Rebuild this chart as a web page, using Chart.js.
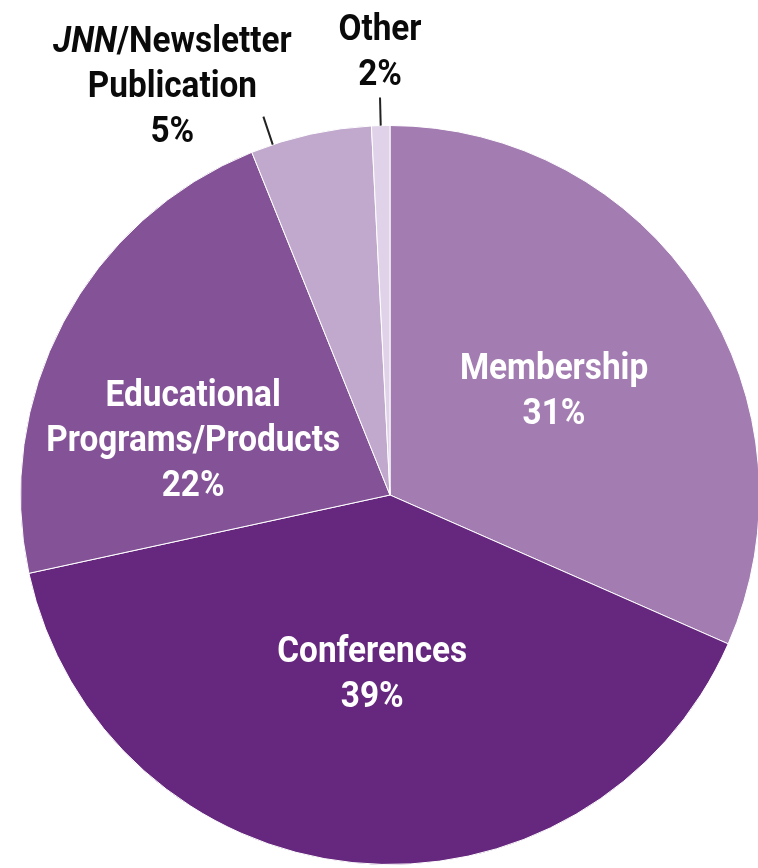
<!DOCTYPE html>
<html>
<head>
<meta charset="utf-8">
<script src="https://cdn.jsdelivr.net/npm/chart.js@4.4.1/dist/chart.umd.min.js"></script>
<style>
  html, body { margin: 0; padding: 0; background: #fff; overflow: hidden; }
  #wrap { width: 760px; height: 868px; }
</style>
</head>
<body>
<div id="wrap"><canvas id="pie" width="760" height="868"></canvas></div>
<script>
// Revenue sources, clockwise from 12 o'clock
const categories = ['Membership', 'Conferences', 'Educational Programs/Products', 'JNN/Newsletter Publication', 'Other'];
// slice sizes as drawn (percent of circle)
const shares = [31.6, 40.0, 22.3, 5.3, 0.8];
// percentages as printed on the chart
const pctText = ['31%', '39%', '22%', '5%', '2%'];
const colors = ['#a37db2', '#66287e', '#845397', '#c1a8cd', '#e0d2e8'];

const FONT = 'Roboto, "Liberation Sans", sans-serif';
const SIZE = 37;
const SQUEEZE = 0.9;   // condensed look
const LINE_H = 45;

// where each label sits: inside ones on the slice's mid angle, outside ones with a leader line
const labelLayout = [
  { inside: true, r: 0.53, shift: 0, lines: ['Membership'] },
  { inside: true, r: 0.48, shift: 0, lines: ['Conferences'] },
  { inside: true, r: 0.555, shift: -11.6, lines: ['Educational', 'Programs/Products'] },
  { inside: false, angle: 341.5, r1: 1.0, r2: 1.08, dx: -91, dy: 25, lines: ['|JNN|/Newsletter', 'Publication'] },
  { inside: false, angle: null, r1: 1.0, r2: 1.076, dx: 0, dy: -13, lines: ['Other'] }
];

function drawLine(ctx, text, x, y) {
  // "|JNN|" marks an italic run
  const segs = [];
  text.split('|').forEach((p, i) => {
    if (p) segs.push({ t: p, italic: i % 2 === 1 });
  });
  let total = 0;
  segs.forEach(s => {
    ctx.font = (s.italic ? 'italic ' : '') + 'bold ' + SIZE + 'px ' + FONT;
    s.w = ctx.measureText(s.t).width;
    total += s.w;
  });
  ctx.save();
  ctx.translate(x, y);
  ctx.scale(SQUEEZE, 1);
  let cx = -total / 2;
  ctx.textAlign = 'left';
  segs.forEach(s => {
    ctx.font = (s.italic ? 'italic ' : '') + 'bold ' + SIZE + 'px ' + FONT;
    ctx.fillText(s.t, cx, 0);
    cx += s.w;
  });
  ctx.restore();
}

const sliceLabels = {
  id: 'sliceLabels',
  afterDatasetsDraw(chart) {
    const ctx = chart.ctx;
    const arcs = chart.getDatasetMeta(0).data;
    ctx.save();
    ctx.textBaseline = 'alphabetic';
    arcs.forEach((arc, i) => {
      const p = arc.getProps(['x', 'y', 'startAngle', 'endAngle', 'outerRadius'], true);
      const lay = labelLayout[i];
      const lines = lay.lines.concat([pctText[i]]);
      if (lay.inside) {
        const mid = (p.startAngle + p.endAngle) / 2 + lay.shift * Math.PI / 180;
        const cx = p.x + Math.cos(mid) * p.outerRadius * lay.r;
        const cy = p.y + Math.sin(mid) * p.outerRadius * lay.r;
        // vertically centre the block on the cap-height middle
        const capMid = SIZE * 0.355;
        const first = cy - (lines.length - 1) * LINE_H / 2 + capMid;
        ctx.fillStyle = '#ffffff';
        lines.forEach((t, k) => drawLine(ctx, t, cx, first + k * LINE_H));
      } else {
        const a = (lay.angle === null ? (p.startAngle + p.endAngle) / 2 : (lay.angle - 90) * Math.PI / 180);
        const x1 = p.x + Math.cos(a) * p.outerRadius * lay.r1;
        const y1 = p.y + Math.sin(a) * p.outerRadius * lay.r1;
        const x2 = p.x + Math.cos(a) * p.outerRadius * lay.r2;
        const y2 = p.y + Math.sin(a) * p.outerRadius * lay.r2;
        ctx.strokeStyle = '#222222';
        ctx.lineWidth = 2;
        ctx.beginPath();
        ctx.moveTo(x1, y1);
        ctx.lineTo(x2, y2);
        ctx.stroke();
        ctx.fillStyle = '#0a0a0a';
        const lastY = y2 + lay.dy;
        const cx = x2 + lay.dx;
        lines.forEach((t, k) => drawLine(ctx, t, cx, lastY - (lines.length - 1 - k) * LINE_H));
      }
    });
    ctx.restore();
  }
};

new Chart(document.getElementById('pie'), {
  type: 'pie',
  data: {
    labels: categories,
    datasets: [{
      data: shares,
      backgroundColor: colors,
      borderColor: '#ffffff',
      borderWidth: 1
    }]
  },
  options: {
    responsive: false,
    animation: false,
    devicePixelRatio: 1,
    layout: { padding: { left: 20, right: 0, top: 125, bottom: 3 } },
    plugins: {
      legend: { display: false },
      tooltip: { enabled: false }
    }
  },
  plugins: [sliceLabels]
});
</script>
</body>
</html>
